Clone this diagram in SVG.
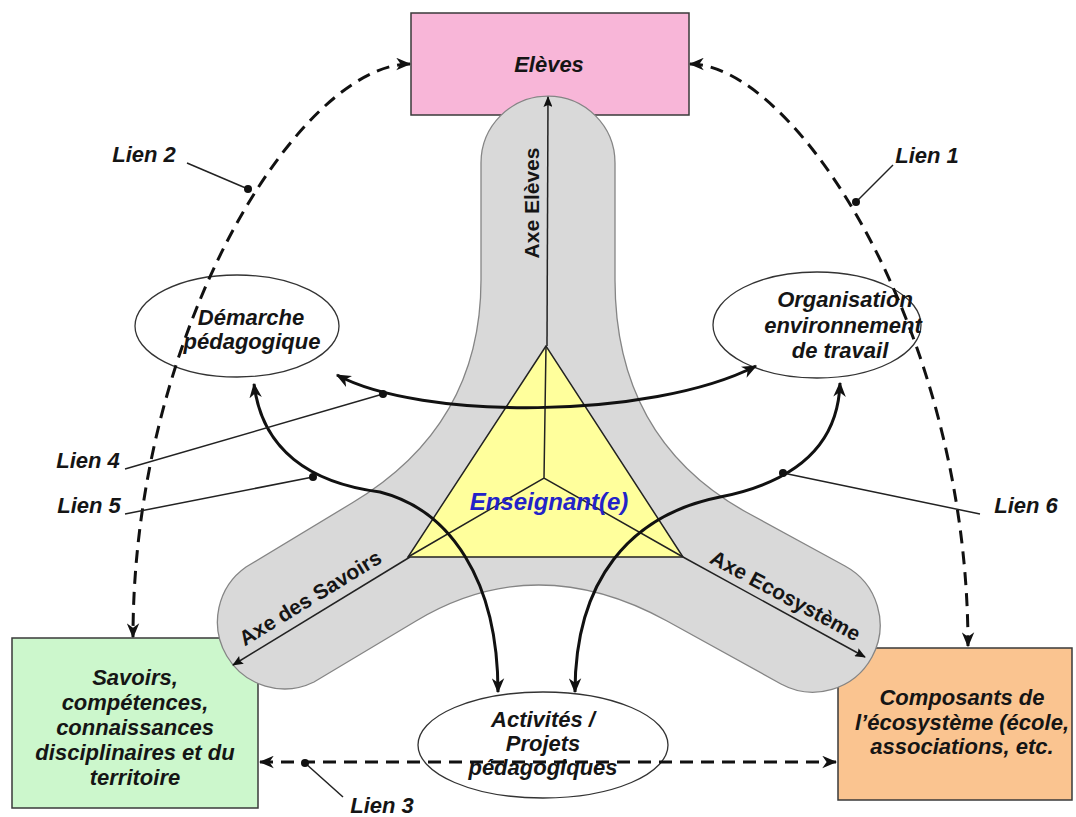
<svg xmlns="http://www.w3.org/2000/svg" width="1076" height="817" viewBox="0 0 1076 817">
<defs>
<style>
.t{font-family:"Liberation Sans",Arial,sans-serif;font-weight:bold;font-style:italic;font-size:22px;fill:#151515;text-anchor:middle}
.ax{font-family:"Liberation Sans",Arial,sans-serif;font-weight:bold;font-size:21px;fill:#151515;text-anchor:middle}
.box{stroke:#3a3a3a;stroke-width:1.5}
.ell{fill:#fff;stroke:#333;stroke-width:1.3}
.dash{fill:none;stroke:#111;stroke-width:3;stroke-dasharray:13 8}
.solid{fill:none;stroke:#111;stroke-width:3}
.lead{fill:none;stroke:#222;stroke-width:1.5}
.axis{fill:none;stroke:#222;stroke-width:1.5}
.dot{fill:#111}
</style>
<marker id="arr" viewBox="0 0 12 10" refX="11" refY="5" markerWidth="15" markerHeight="13" markerUnits="userSpaceOnUse" orient="auto-start-reverse"><path d="M0,0 L12,5 L0,10 L3.5,5 z" fill="#111"/></marker>
<marker id="arrS" viewBox="0 0 12 10" refX="11" refY="5" markerWidth="11" markerHeight="9" markerUnits="userSpaceOnUse" orient="auto"><path d="M0,0 L12,5 L0,10 L2,5 z" fill="#111"/></marker>
</defs>
<rect width="1076" height="817" fill="#fff"/>

<g id="eleves">
<rect class="box" x="411" y="13" width="278" height="102" fill="#f8b6d8"/>
<text class="t" x="549" y="72">Elèves</text>
</g>
<g id="savoirs">
<rect class="box" x="12" y="638" width="246" height="170" fill="#ccf7cc"/>
<text class="t" x="135" y="685">Savoirs,</text>
<text class="t" x="135" y="710">compétences,</text>
<text class="t" x="135" y="735">connaissances</text>
<text class="t" x="135" y="760">disciplinaires et du</text>
<text class="t" x="135" y="785">territoire</text>
</g>
<g id="ecosysteme">
<rect class="box" x="838" y="648" width="234" height="152" fill="#fac490"/>
<text class="t" x="962" y="705">Composants de</text>
<text class="t" x="962" y="730">l’écosystème (école,</text>
<text class="t" x="962" y="754">associations, etc.</text>
</g>

<g id="axes-band">
<path d="M481,280 L481,163 A67,67 0 0 1 615,163 L615,280 Q615,439 746,512 L845,566 A67,67 0 0 1 781,684 L667,621 Q536,549 416,621 L314,682 A67,67 0 0 1 246,567 L352,503 Q481,426 481,280 Z" fill="#d9d9d9" stroke="#858585" stroke-width="1.3"/>
<line class="axis" x1="547" y1="346" x2="548" y2="97" marker-end="url(#arrS)"/>
<line class="axis" x1="410" y1="557" x2="233" y2="665" marker-end="url(#arrS)"/>
<line class="axis" x1="683" y1="557" x2="865" y2="657" marker-end="url(#arrS)"/>
<text class="ax" transform="translate(539,203) rotate(-90)">Axe Elèves</text>
<text class="ax" transform="translate(314,604) rotate(-31.5)">Axe des Savoirs</text>
<text class="ax" transform="translate(782,602) rotate(28.4)">Axe Ecosystème</text>
</g>

<g id="enseignant">
<polygon points="546,346 408,557 683,557" fill="#ffff9c" stroke="#222" stroke-width="1.5"/>
<path d="M546,346 L544,478 M408,557 L544,478 L683,557" fill="none" stroke="#222" stroke-width="1.5"/>
<text class="t" x="549" y="510" style="font-size:24px;fill:#2323c8">Enseignant(e)</text>
</g>

<g id="demarche">
<ellipse class="ell" cx="237" cy="326" rx="102" ry="51"/>
<text class="t" x="251" y="325">Démarche</text>
<text class="t" x="252" y="349">pédagogique</text>
</g>
<g id="organisation">
<ellipse class="ell" cx="817" cy="325" rx="104" ry="53"/>
<text class="t" x="845" y="307">Organisation</text>
<text class="t" x="843" y="333">environnement</text>
<text class="t" x="840" y="358">de travail</text>
</g>
<g id="activites">
<ellipse class="ell" cx="543" cy="745" rx="125" ry="53"/>
<text class="t" x="543" y="727">Activités /</text>
<text class="t" x="543" y="751">Projets</text>
<text class="t" x="543" y="775">pédagogiques</text>
</g>

<g id="connectors">
<path class="dash" d="M690,64 C795,64 968,330 968,646" marker-start="url(#arr)" marker-end="url(#arr)"/>
<path class="dash" d="M410,64 C300,64 133,330 133,637" marker-start="url(#arr)" marker-end="url(#arr)"/>
<path class="dash" d="M260,762 L836,762" marker-start="url(#arr)" marker-end="url(#arr)"/>
<path class="solid" d="M337,375 C420,420 650,420 756,366" marker-start="url(#arr)" marker-end="url(#arr)"/>
<path class="solid" d="M254,384 C262,450 310,483 380,492 C450,510 498,580 498,692" marker-start="url(#arr)" marker-end="url(#arr)"/>
<path class="solid" d="M575,692 C575,580 630,515 720,497 C790,483 838,450 840,383" marker-start="url(#arr)" marker-end="url(#arr)"/>

<line class="lead" x1="187" y1="163" x2="248" y2="189"/>
<line class="lead" x1="893" y1="165" x2="856" y2="202"/>
<line class="lead" x1="125" y1="469" x2="383" y2="394"/>
<line class="lead" x1="125" y1="514" x2="313" y2="477"/>
<line class="lead" x1="783" y1="473" x2="980" y2="514"/>
<line class="lead" x1="305" y1="763" x2="343" y2="797"/>
<circle class="dot" cx="248" cy="189" r="4"/>
<circle class="dot" cx="856" cy="202" r="4"/>
<circle class="dot" cx="383" cy="394" r="4"/>
<circle class="dot" cx="313" cy="477" r="4"/>
<circle class="dot" cx="783" cy="473" r="4"/>
<circle class="dot" cx="305" cy="763" r="4"/>
</g>

<g id="labels">
<text class="t" x="144" y="162">Lien 2</text>
<text class="t" x="927" y="163">Lien 1</text>
<text class="t" x="88" y="468">Lien 4</text>
<text class="t" x="89" y="513">Lien 5</text>
<text class="t" x="1026" y="513">Lien 6</text>
<text class="t" x="382" y="813">Lien 3</text>
</g>
</svg>
